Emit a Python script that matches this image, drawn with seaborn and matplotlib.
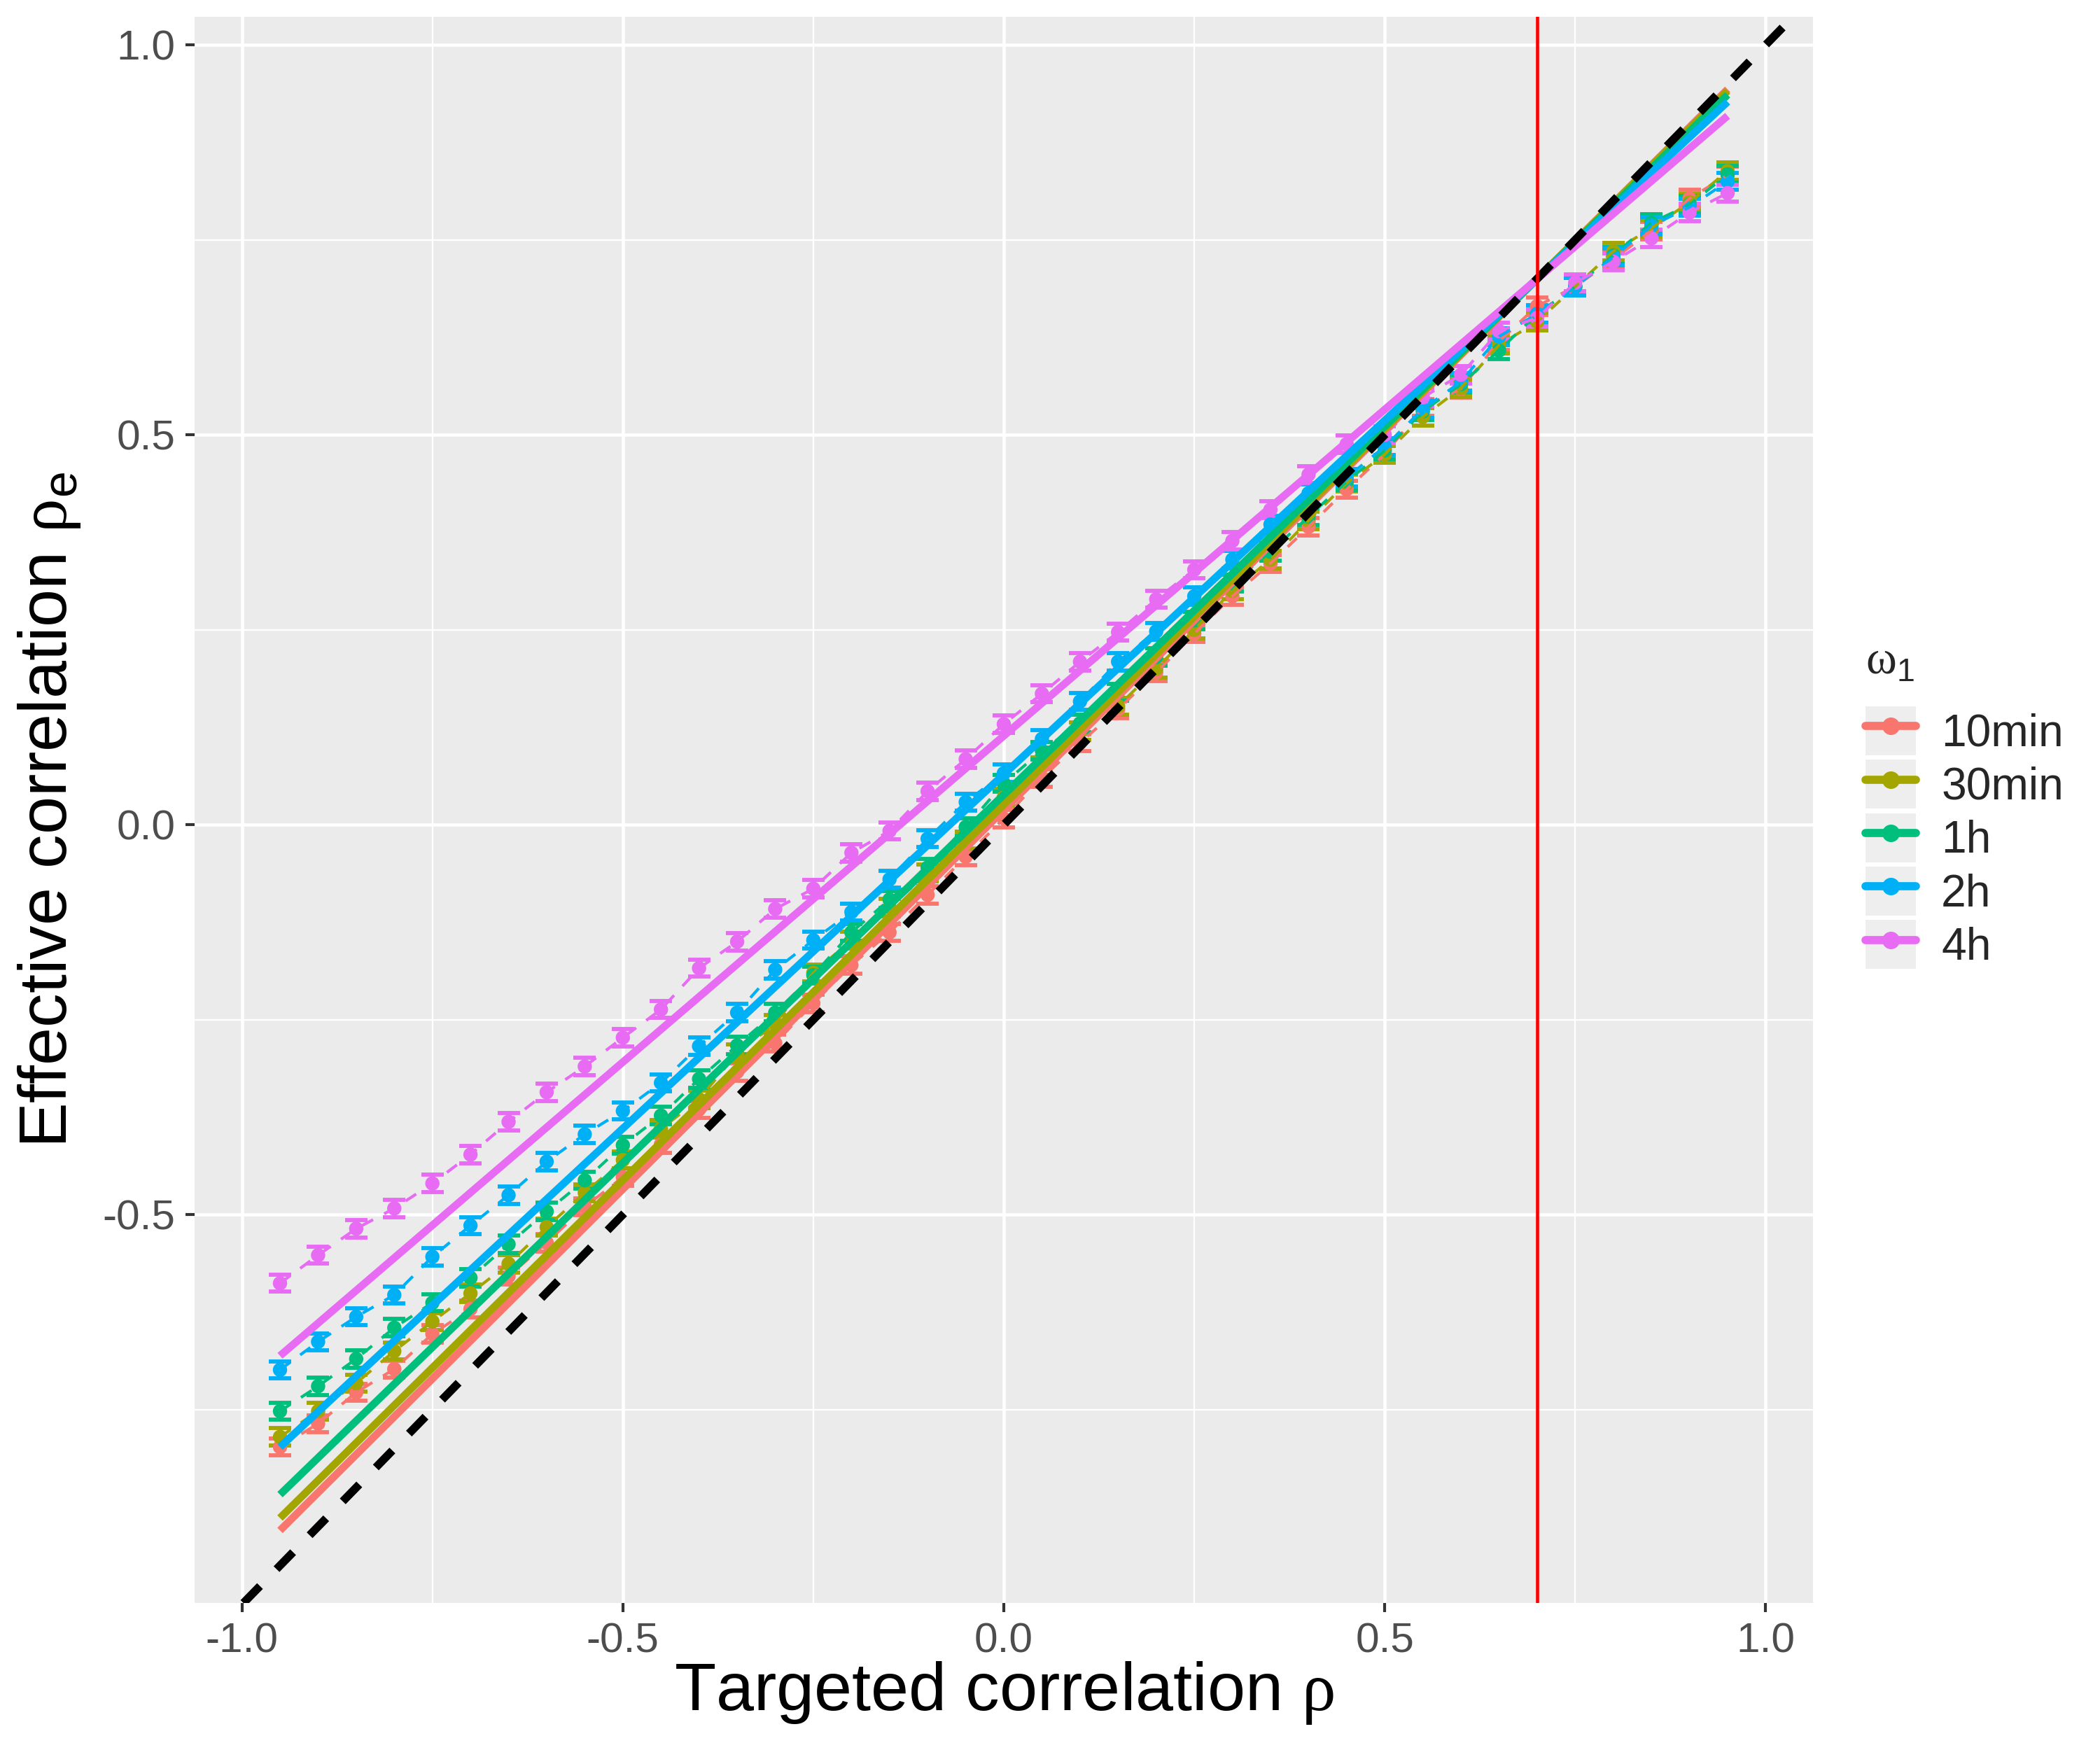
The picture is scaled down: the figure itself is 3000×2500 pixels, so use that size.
import numpy as np
import pandas as pd
import matplotlib
matplotlib.use('Agg')
import matplotlib.pyplot as plt
import seaborn as sns
from matplotlib.lines import Line2D
from matplotlib.patches import Rectangle
from matplotlib.legend_handler import HandlerTuple
from matplotlib.ticker import FormatStrFormatter, MultipleLocator

# targeted correlation grid
rho = [-0.95, -0.90, -0.85, -0.80, -0.75, -0.70, -0.65, -0.60, -0.55, -0.50,
       -0.45, -0.40, -0.35, -0.30, -0.25, -0.20, -0.15, -0.10, -0.05, 0.00,
       0.05, 0.10, 0.15, 0.20, 0.25, 0.30, 0.35, 0.40, 0.45, 0.50,
       0.55, 0.60, 0.65, 0.70, 0.75, 0.80, 0.85, 0.90, 0.95]

# measured effective correlation per omega_1
eff_10min = [-0.798, -0.768, -0.728, -0.698, -0.653, -0.621, -0.579, -0.536, -0.490, -0.452,
             -0.410, -0.365, -0.317, -0.280, -0.229, -0.180, -0.138, -0.090, -0.041, 0.008,
             0.060, 0.105, 0.148, 0.195, 0.245, 0.293, 0.335, 0.382, 0.430, 0.475,
             0.535, 0.559, 0.620, 0.665, 0.690, 0.725, 0.762, 0.803, 0.833]
eff_30min = [-0.785, -0.752, -0.716, -0.675, -0.637, -0.601, -0.563, -0.516, -0.472, -0.430,
             -0.390, -0.352, -0.293, -0.255, -0.190, -0.148, -0.106, -0.062, -0.020, 0.035,
             0.075, 0.120, 0.152, 0.200, 0.250, 0.300, 0.340, 0.390, 0.438, 0.475,
             0.523, 0.560, 0.615, 0.645, 0.690, 0.735, 0.765, 0.798, 0.838]
eff_1h = [-0.752, -0.720, -0.685, -0.645, -0.613, -0.581, -0.538, -0.496, -0.456, -0.411,
          -0.373, -0.326, -0.283, -0.241, -0.193, -0.138, -0.096, -0.055, -0.003, 0.053,
          0.095, 0.130, 0.170, 0.215, 0.262, 0.310, 0.350, 0.395, 0.440, 0.480,
          0.530, 0.565, 0.608, 0.655, 0.690, 0.730, 0.772, 0.795, 0.834]
eff_2h = [-0.699, -0.663, -0.631, -0.603, -0.554, -0.514, -0.475, -0.432, -0.397, -0.367,
          -0.331, -0.284, -0.241, -0.186, -0.148, -0.112, -0.070, -0.018, 0.029, 0.066,
          0.110, 0.158, 0.209, 0.248, 0.293, 0.340, 0.385, 0.425, 0.445, 0.485,
          0.533, 0.568, 0.626, 0.655, 0.690, 0.728, 0.768, 0.792, 0.825]
eff_4h = [-0.588, -0.552, -0.518, -0.492, -0.460, -0.423, -0.381, -0.343, -0.310, -0.273,
          -0.237, -0.184, -0.150, -0.108, -0.082, -0.036, -0.008, 0.043, 0.084, 0.129,
          0.168, 0.209, 0.247, 0.289, 0.327, 0.364, 0.404, 0.449, 0.488, 0.500,
          0.548, 0.577, 0.633, 0.650, 0.695, 0.722, 0.752, 0.785, 0.810]

# half-width of error bars
err_half = [0.011, 0.011, 0.011, 0.011, 0.011]

labels = ['10min', '30min', '1h', '2h', '4h']
colors = ['#F8766D', '#A3A500', '#00BF7D', '#00B0F6', '#E76BF3']

# theoretical lines (end points)
fit_rho = [-0.95, 0.95]
fit_lo = [-0.905, -0.889, -0.859, -0.798, -0.681]
fit_hi = [0.943, 0.941, 0.936, 0.927, 0.909]

rho_cut = 0.7

series = [eff_10min, eff_30min, eff_1h, eff_2h, eff_4h]
df = pd.concat([pd.DataFrame({'rho': rho, 'rho_e': s, 'err': e, 'omega': lab})
                for s, e, lab in zip(series, err_half, labels)], ignore_index=True)
fit_df = pd.concat([pd.DataFrame({'rho': fit_rho, 'rho_e': [lo, hi], 'omega': lab})
                    for lo, hi, lab in zip(fit_lo, fit_hi, labels)], ignore_index=True)
palette = dict(zip(labels, colors))

# ggplot-like look
sns.set_theme(style='darkgrid', rc={'axes.facecolor': '#EBEBEB', 'grid.color': 'white'})
plt.rcParams['font.family'] = ['Liberation Sans', 'DejaVu Sans']
plt.rcParams['axes.unicode_minus'] = False
plt.rcParams['mathtext.fontset'] = 'custom'
plt.rcParams['mathtext.rm'] = 'Liberation Serif'
plt.rcParams['mathtext.sf'] = 'Liberation Sans'

fig = plt.figure(figsize=(10, 25 / 3), dpi=300)
ax = fig.add_axes([0.0927, 0.084, 0.8633 - 0.0927, 0.9904 - 0.084])

# error bars
for lab in labels:
    d = df[df['omega'] == lab]
    ax.errorbar(d['rho'], d['rho_e'], yerr=d['err'], fmt='none', ecolor=palette[lab],
                elinewidth=1.3, capsize=3.8, capthick=1.4, zorder=3)

# points
sns.scatterplot(data=df, x='rho', y='rho_e', hue='omega', palette=palette, s=24,
                linewidth=0, legend=False, ax=ax, zorder=4)

# thin dashed connecting lines
sns.lineplot(data=df, x='rho', y='rho_e', hue='omega', palette=palette, lw=1.0,
             linestyle=(0, (4.3, 4.3)), legend=False, ax=ax, zorder=4, sort=False,
             errorbar=None)

# theoretical solid lines
sns.lineplot(data=fit_df, x='rho', y='rho_e', hue='omega', palette=palette, lw=2.6,
             legend=False, ax=ax, zorder=5, sort=False, errorbar=None,
             solid_capstyle='butt')

# identity line and cut-off
ax.axline((0, 0), slope=1, color='black', lw=2.8, linestyle=(0, (2.9, 2.9)), zorder=6)
ax.axvline(rho_cut, color='red', lw=1.1, zorder=7)

ax.set_xlim(-1.062, 1.062)
ax.set_ylim(-0.998, 1.036)
ax.xaxis.set_major_locator(MultipleLocator(0.5))
ax.yaxis.set_major_locator(MultipleLocator(0.5))
ax.xaxis.set_minor_locator(MultipleLocator(0.25))
ax.yaxis.set_minor_locator(MultipleLocator(0.25))
ax.xaxis.set_major_formatter(FormatStrFormatter('%.1f'))
ax.yaxis.set_major_formatter(FormatStrFormatter('%.1f'))
ax.grid(which='major', color='white', lw=1.1)
ax.grid(which='minor', color='white', lw=0.55)
ax.tick_params(which='major', length=3.1, width=1.0, color='#333333', labelsize=14.5,
               labelcolor='#4D4D4D', pad=3.5, bottom=True, left=True)
ax.tick_params(which='minor', length=0)
for sp in ax.spines.values():
    sp.set_visible(False)

ax.set_xlabel(r'Targeted correlation $\mathrm{\rho}$', fontsize=23.3, color='black', va='baseline')
ax.set_ylabel(r'Effective correlation $\mathrm{\rho}_\mathsf{e}$', fontsize=23.3, color='black',
              va='baseline')
ax.xaxis.set_label_coords(0.5, -0.0675)
ax.yaxis.set_label_coords(-0.0792, 0.5)

# legend with grey key boxes
handles = [(Rectangle((0, 0), 1, 1, facecolor='#EEEEEE', edgecolor='none'),
            Line2D([], [], color=c, lw=2.8, marker='o', ms=5))
           for c in colors]
ax.legend(handles, labels, handler_map={tuple: HandlerTuple(ndivide=1, pad=0)},
          loc='upper left', bbox_to_anchor=(2665 / 3000, 1 - 1009 / 2500),
          bbox_transform=fig.transFigure, frameon=False, borderpad=0, borderaxespad=0,
          fontsize=15.4, handlelength=1.125, handleheight=1.3, labelspacing=0.1,
          handletextpad=0.56, numpoints=1)
fig.text(2665 / 3000, 1 - 946 / 2500, r'$\mathrm{\omega}_\mathsf{1}$', fontsize=16,
         va='center', ha='left')

fig.savefig('out.png', dpi=300, facecolor='white')
